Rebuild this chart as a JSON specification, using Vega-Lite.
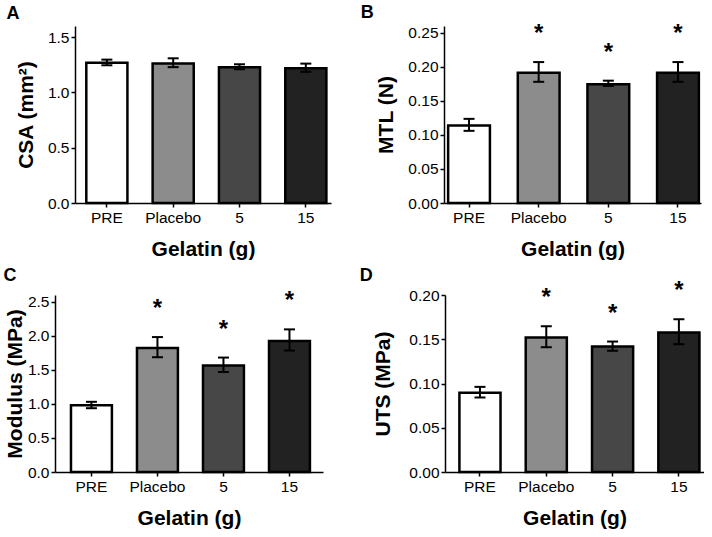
{
  "$schema": "https://vega.github.io/schema/vega-lite/v6.json",
  "padding": {"left": 3, "top": 4, "right": 0, "bottom": 0},
  "background": "white",
  "config": {
    "font": "Liberation Sans",
    "view": {"stroke": null},
    "axis": {"domainColor": "black", "domainWidth": 1.5, "tickColor": "black", "tickWidth": 1.5, "tickSize": 4, "labelColor": "black", "labelFont": "Liberation Sans", "labelFontSize": 15.5, "titleFont": "Liberation Sans", "titleFontSize": 21, "titleFontWeight": "bold", "titleColor": "black", "grid": false, "labelPadding": 2, "labelOverlap": false, "tickCount": 12},
    "axisX": {"labelAngle": 0, "titlePadding": 13, "labelPadding": 3},
    "title": {"fontSize": 18, "fontWeight": "bold", "anchor": "start", "frame": "bounds", "color": "black", "font": "Liberation Sans"},
    "bar": {"stroke": "black", "strokeWidth": 2.5}
  },
  "datasets": {
    "d": [
      {"panel": "A", "group": "PRE", "value": 1.268, "lo": 1.245, "hi": 1.296, "sig": ""},
      {"panel": "A", "group": "Placebo", "value": 1.26, "lo": 1.228, "hi": 1.308, "sig": ""},
      {"panel": "A", "group": "5", "value": 1.226, "lo": 1.209, "hi": 1.254, "sig": ""},
      {"panel": "A", "group": "15", "value": 1.217, "lo": 1.186, "hi": 1.26, "sig": ""},
      {"panel": "B", "group": "PRE", "value": 0.114, "lo": 0.106, "hi": 0.1236, "sig": ""},
      {"panel": "B", "group": "Placebo", "value": 0.1915, "lo": 0.178, "hi": 0.207, "sig": "*"},
      {"panel": "B", "group": "5", "value": 0.1745, "lo": 0.172, "hi": 0.1797, "sig": "*"},
      {"panel": "B", "group": "15", "value": 0.1915, "lo": 0.178, "hi": 0.207, "sig": "*"},
      {"panel": "C", "group": "PRE", "value": 0.979, "lo": 0.937, "hi": 1.031, "sig": ""},
      {"panel": "C", "group": "Placebo", "value": 1.822, "lo": 1.686, "hi": 1.982, "sig": "*"},
      {"panel": "C", "group": "5", "value": 1.563, "lo": 1.469, "hi": 1.681, "sig": "*"},
      {"panel": "C", "group": "15", "value": 1.926, "lo": 1.784, "hi": 2.095, "sig": "*"},
      {"panel": "D", "group": "PRE", "value": 0.0895, "lo": 0.0842, "hi": 0.0962, "sig": ""},
      {"panel": "D", "group": "Placebo", "value": 0.1519, "lo": 0.141, "hi": 0.1647, "sig": "*"},
      {"panel": "D", "group": "5", "value": 0.1417, "lo": 0.137, "hi": 0.1474, "sig": "*"},
      {"panel": "D", "group": "15", "value": 0.1575, "lo": 0.1444, "hi": 0.1726, "sig": "*"}
    ]
  },
  "spacing": 7,
  "vconcat": [
    {
      "spacing": 29,
      "hconcat": [
        {
          "title": {"text": "A", "dx": -9, "offset": 3},
          "width": 256, "height": 177,
          "data": {"name": "d"},
          "transform": [{"filter": "datum.panel === 'A'"}],
          "encoding": {"x": {"field": "group", "type": "nominal", "sort": ["PRE", "Placebo", "5", "15"], "scale": {"paddingInner": 0.38, "paddingOuter": 0.12, "align": 0.71}, "title": "Gelatin (g)"}},
          "layer": [
            {"mark": "bar", "encoding": {
              "y": {"field": "value", "type": "quantitative", "title": "CSA (mm²)", "scale": {"domain": [0, 1.5]}, "axis": {"values": [0, 0.5, 1, 1.5], "format": ".1f", "titlePadding": 11}},
              "fill": {"field": "group", "type": "nominal", "scale": {"domain": ["PRE", "Placebo", "5", "15"], "range": ["#ffffff", "#8c8c8c", "#474747", "#222222"]}, "legend": null}}},
            {"mark": {"type": "rule", "strokeWidth": 2, "color": "black"}, "encoding": {"y": {"field": "lo", "type": "quantitative", "title": "CSA (mm²)"}, "y2": {"field": "hi"}}},
            {"mark": {"type": "tick", "color": "black", "size": 11, "thickness": 2, "orient": "horizontal", "opacity": 1}, "encoding": {"y": {"field": "lo", "type": "quantitative", "title": "CSA (mm²)"}}},
            {"mark": {"type": "tick", "color": "black", "size": 11, "thickness": 2, "orient": "horizontal", "opacity": 1}, "encoding": {"y": {"field": "hi", "type": "quantitative", "title": "CSA (mm²)"}}}
          ]
        },
        {
          "title": {"text": "B", "dx": -15, "offset": 0},
          "width": 257, "height": 177,
          "data": {"name": "d"},
          "transform": [{"filter": "datum.panel === 'B'"}],
          "encoding": {"x": {"field": "group", "type": "nominal", "sort": ["PRE", "Placebo", "5", "15"], "scale": {"paddingInner": 0.4, "paddingOuter": 0.045, "align": 0.66}, "title": "Gelatin (g)"}},
          "layer": [
            {"mark": "bar", "encoding": {
              "y": {"field": "value", "type": "quantitative", "title": "MTL (N)", "scale": {"domain": [0, 0.25]}, "axis": {"values": [0, 0.05, 0.1, 0.15, 0.2, 0.25], "format": ".2f", "titlePadding": 11}},
              "fill": {"field": "group", "type": "nominal", "scale": {"domain": ["PRE", "Placebo", "5", "15"], "range": ["#ffffff", "#8c8c8c", "#474747", "#222222"]}, "legend": null}}},
            {"mark": {"type": "rule", "strokeWidth": 2, "color": "black"}, "encoding": {"y": {"field": "lo", "type": "quantitative", "title": "MTL (N)"}, "y2": {"field": "hi"}}},
            {"mark": {"type": "tick", "color": "black", "size": 11, "thickness": 2, "orient": "horizontal", "opacity": 1}, "encoding": {"y": {"field": "lo", "type": "quantitative", "title": "MTL (N)"}}},
            {"mark": {"type": "tick", "color": "black", "size": 11, "thickness": 2, "orient": "horizontal", "opacity": 1}, "encoding": {"y": {"field": "hi", "type": "quantitative", "title": "MTL (N)"}}},
            {"transform": [{"filter": "datum.sig !== ''"}], "mark": {"type": "text", "dy": -28, "fontSize": 24, "fontWeight": "bold", "baseline": "middle", "color": "black"}, "encoding": {"y": {"field": "hi", "type": "quantitative", "title": "MTL (N)"}, "text": {"field": "sig"}}}
          ]
        }
      ]
    },
    {
      "spacing": 16,
      "hconcat": [
        {
          "title": {"text": "C", "dx": -1, "offset": 4},
          "width": 248, "height": 177,
          "data": {"name": "d"},
          "transform": [{"filter": "datum.panel === 'C'"}],
          "encoding": {"x": {"field": "group", "type": "nominal", "sort": ["PRE", "Placebo", "5", "15"], "scale": {"range": [-20, 248], "paddingInner": 0.38, "paddingOuter": 0.22, "align": 0.55}, "title": "Gelatin (g)"}},
          "layer": [
            {"mark": "bar", "encoding": {
              "y": {"field": "value", "type": "quantitative", "title": "Modulus (MPa)", "scale": {"domain": [0, 2.5]}, "axis": {"values": [0, 0.5, 1, 1.5, 2, 2.5], "format": ".1f", "titlePadding": 2, "offset": 20}},
              "fill": {"field": "group", "type": "nominal", "scale": {"domain": ["PRE", "Placebo", "5", "15"], "range": ["#ffffff", "#8c8c8c", "#474747", "#222222"]}, "legend": null}}},
            {"mark": {"type": "rule", "strokeWidth": 2, "color": "black"}, "encoding": {"y": {"field": "lo", "type": "quantitative", "title": "Modulus (MPa)"}, "y2": {"field": "hi"}}},
            {"mark": {"type": "tick", "color": "black", "size": 11, "thickness": 2, "orient": "horizontal", "opacity": 1}, "encoding": {"y": {"field": "lo", "type": "quantitative", "title": "Modulus (MPa)"}}},
            {"mark": {"type": "tick", "color": "black", "size": 11, "thickness": 2, "orient": "horizontal", "opacity": 1}, "encoding": {"y": {"field": "hi", "type": "quantitative", "title": "Modulus (MPa)"}}},
            {"transform": [{"filter": "datum.sig !== ''"}], "mark": {"type": "text", "dy": -28, "fontSize": 24, "fontWeight": "bold", "baseline": "middle", "color": "black"}, "encoding": {"y": {"field": "hi", "type": "quantitative", "title": "Modulus (MPa)"}, "text": {"field": "sig"}}}
          ]
        },
        {
          "title": {"text": "D", "dx": -13, "offset": -6},
          "width": 259, "height": 177,
          "data": {"name": "d"},
          "transform": [{"filter": "datum.panel === 'D'"}],
          "encoding": {"x": {"field": "group", "type": "nominal", "sort": ["PRE", "Placebo", "5", "15"], "scale": {"paddingInner": 0.38, "paddingOuter": 0.143, "align": 0.76}, "title": "Gelatin (g)"}},
          "layer": [
            {"mark": "bar", "encoding": {
              "y": {"field": "value", "type": "quantitative", "title": "UTS (MPa)", "scale": {"domain": [0, 0.2]}, "axis": {"values": [0, 0.05, 0.1, 0.15, 0.2], "format": ".2f", "titlePadding": 15}},
              "fill": {"field": "group", "type": "nominal", "scale": {"domain": ["PRE", "Placebo", "5", "15"], "range": ["#ffffff", "#8c8c8c", "#474747", "#222222"]}, "legend": null}}},
            {"mark": {"type": "rule", "strokeWidth": 2, "color": "black"}, "encoding": {"y": {"field": "lo", "type": "quantitative", "title": "UTS (MPa)"}, "y2": {"field": "hi"}}},
            {"mark": {"type": "tick", "color": "black", "size": 11, "thickness": 2, "orient": "horizontal", "opacity": 1}, "encoding": {"y": {"field": "lo", "type": "quantitative", "title": "UTS (MPa)"}}},
            {"mark": {"type": "tick", "color": "black", "size": 11, "thickness": 2, "orient": "horizontal", "opacity": 1}, "encoding": {"y": {"field": "hi", "type": "quantitative", "title": "UTS (MPa)"}}},
            {"transform": [{"filter": "datum.sig !== ''"}], "mark": {"type": "text", "dy": -28, "fontSize": 24, "fontWeight": "bold", "baseline": "middle", "color": "black"}, "encoding": {"y": {"field": "hi", "type": "quantitative", "title": "UTS (MPa)"}, "text": {"field": "sig"}}}
          ]
        }
      ]
    }
  ]
}
